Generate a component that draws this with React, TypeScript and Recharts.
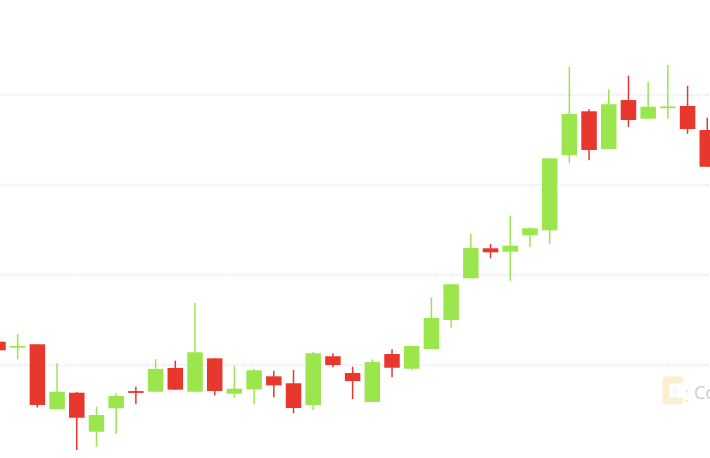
import React from "react";
import { ComposedChart, Bar, XAxis, YAxis, CartesianGrid } from "recharts";

// Candle values (arbitrary price units)
const opens = [125.9, 120.0, 123.0, 50.8, 69.2, 25.9, 51.9, 70.6, 70.3, 96.7, 70.3, 107.4, 68.1, 73.0, 87.4, 79.7, 55.6, 109.7, 91.1, 58.9, 112.2, 95.9, 117.8, 150.0, 196.3, 229.7, 225.9, 244.1, 249.7, 333.0, 381.9, 340.0, 394.4, 373.7, 386.0, 387.8, 361.1];
const closes = [116.3, 120.6, 55.6, 70.3, 41.4, 44.4, 65.6, 69.4, 95.6, 72.6, 114.1, 71.1, 73.7, 94.1, 77.4, 52.2, 113.0, 100.0, 82.2, 103.3, 97.0, 121.1, 152.2, 189.7, 230.0, 225.2, 232.6, 251.9, 329.7, 378.9, 338.9, 389.7, 372.2, 387.0, 386.7, 362.2, 320.3];
const highs = [125.9, 134.4, 123.0, 101.9, 70.0, 53.7, 68.6, 75.9, 106.7, 104.8, 168.9, 107.4, 98.9, 95.6, 93.7, 94.4, 114.8, 113.0, 98.1, 106.3, 117.4, 121.1, 175.0, 189.7, 245.6, 234.4, 265.9, 253.0, 329.7, 431.4, 384.1, 406.3, 421.4, 414.8, 433.3, 410.3, 374.8];
const lows = [116.3, 106.3, 52.6, 50.8, 5.6, 9.2, 23.3, 56.7, 70.3, 72.6, 70.3, 66.3, 63.7, 56.7, 64.1, 46.3, 50.0, 97.4, 62.2, 58.9, 86.3, 94.4, 117.8, 141.7, 196.3, 218.6, 193.7, 231.1, 234.1, 324.1, 327.4, 340.0, 364.4, 373.7, 373.7, 357.0, 320.0];
const gridValues = [100, 200, 300, 400];

const data = opens.map((o, i) => ({
  idx: i,
  open: o,
  close: closes[i],
  high: highs[i],
  low: lows[i],
}));

const GREEN = "#9be64c";
const RED = "#e8372c";

const Candle = (props: any) => {
  const { x, y, width, height, payload } = props;
  if (x == null || y == null) return null;
  const { open, close, high, low } = payload;
  const span = high - low;
  const py = (v: number) => (span === 0 ? y : y + ((high - v) / span) * height);
  const color = close >= open ? GREEN : RED;
  const cx = x + width / 2;
  const top = Math.min(py(open), py(close));
  const bot = Math.max(py(open), py(close));
  const bh = Math.max(bot - top, 1.8);
  const bw = 15.5;
  return (
    <g>
      <line x1={cx} x2={cx} y1={y} y2={y + height} stroke={color} strokeWidth={1.5} />
      <rect x={cx - bw / 2} y={bh === bot - top ? top : (top + bot) / 2 - bh / 2} width={bw} height={bh} fill={color} />
    </g>
  );
};

export default function App() {
  return (
    <div
      style={{
        position: "fixed",
        left: 0,
        top: 0,
        width: 710,
        height: 458,
        overflow: "hidden",
        background: "#ffffff",
      }}
    >
      <div style={{ position: "absolute", left: -12.5, top: 0 }}>
        <ComposedChart
          width={729}
          height={458}
          data={data}
          margin={{ top: 5, right: 0, bottom: 3, left: 0 }}
          barCategoryGap="10%"
        >
          <CartesianGrid
            vertical={false}
            horizontalValues={gridValues}
            stroke="#d6d8ee"
            strokeDasharray="1 1"
          />
          <XAxis dataKey="idx" type="category" hide />
          <YAxis type="number" domain={[0, 500]} ticks={gridValues} hide allowDataOverflow />
          <Bar
            dataKey={(d: any) => [d.low, d.high]}
            shape={<Candle />}
            isAnimationActive={false}
          />
        </ComposedChart>
      </div>
      <svg
        width={710}
        height={458}
        style={{ position: "absolute", left: 0, top: 0, pointerEvents: "none" }}
      >
        <path
          d="M 680 380 L 666 380 L 666 401 L 680 401"
          fill="none"
          stroke="#fcefd0"
          strokeWidth={7}
          strokeLinejoin="round"
          strokeLinecap="round"
        />
        <circle cx={675} cy={392} r={1.3} fill="#fbe9c3" />
        <circle cx={687} cy={391} r={1.3} fill="#fbe9c3" />
        <circle cx={687} cy={401} r={1.3} fill="#fbe9c3" />
        <text
          x={694}
          y={399}
          fontSize={18}
          fontFamily="'Open Sans', 'Noto Sans', sans-serif"
          fill="#c9ccd4"
        >
          CoinDesk
        </text>
      </svg>
    </div>
  );
}
